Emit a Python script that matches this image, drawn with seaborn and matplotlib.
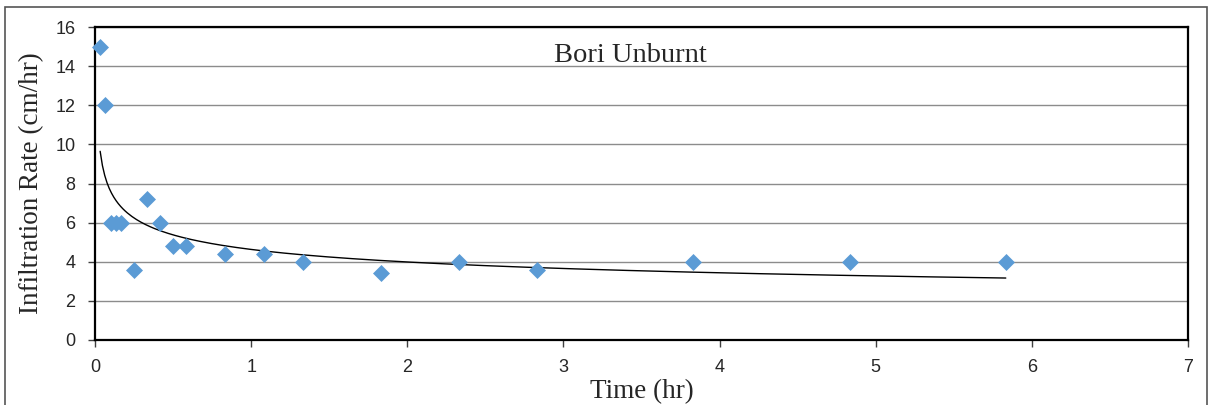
import numpy as np
import pandas as pd
import matplotlib
matplotlib.use("Agg")
import matplotlib.pyplot as plt
import seaborn as sns

time_hr = [0.033, 0.067, 0.1, 0.133, 0.167, 0.25, 0.333, 0.417, 0.5, 0.583,
           0.833, 1.083, 1.333, 1.833, 2.333, 2.833, 3.833, 4.833, 5.833]
rate = [15.0, 12.0, 6.0, 6.0, 6.0, 3.6, 7.2, 6.0, 4.8, 4.8,
        4.4, 4.4, 4.0, 3.4, 4.0, 3.6, 4.0, 4.0, 4.0]
x_ticks = [0, 1, 2, 3, 4, 5, 6, 7]
y_ticks = [0, 2, 4, 6, 8, 10, 12, 14, 16]

df = pd.DataFrame({"Time (hr)": time_hr, "Rate": rate})

sns.set_style("white")
plt.rcParams["font.family"] = ["Liberation Sans", "DejaVu Sans"]

W, H = 1208, 405
fig = plt.figure(figsize=(W / 100, H / 100), dpi=100)
ax = fig.add_axes([95 / W, 1 - 340 / H, (1188 - 95) / W, (340 - 27) / H])

# outer chart-area border
fig.patches.append(plt.Rectangle((5 / W, -0.05), (1207 - 5) / W, 1.05 - 7 / H,
                                 transform=fig.transFigure, fill=False,
                                 edgecolor="#555555", linewidth=1.2))

# power trendline fitted on the data
b, loga = np.polyfit(np.log(df["Time (hr)"]), np.log(df["Rate"]), 1)
xs = np.linspace(min(time_hr), max(time_hr), 400)
ax.plot(xs, np.exp(loga) * xs ** b, color="black", linewidth=1, zorder=3)

sns.scatterplot(data=df, x="Time (hr)", y="Rate", marker="D", s=75, color="#5B9BD5",
                edgecolor="#5B9BD5", linewidth=0, ax=ax, zorder=4, clip_on=False)

ax.set_xlim(0, 7)
ax.set_ylim(0, 16)
ax.set_xticks(x_ticks)
ax.set_yticks(y_ticks)
ax.yaxis.grid(True, color="#8C8C8C", linewidth=1)
ax.set_axisbelow(True)
for s in ["left", "bottom", "top", "right"]:
    ax.spines[s].set_color("black")
    ax.spines[s].set_linewidth(1.6)
ax.tick_params(axis="both", direction="out", length=5, width=1, color="#404040",
               labelsize=13, bottom=True, left=True)
ax.tick_params(axis="x", pad=9)
ax.tick_params(axis="y", pad=9)
ax.set_xlabel("Time (hr)", fontsize=19.5, family=["Liberation Serif"], labelpad=2)
ax.set_ylabel("Infiltration Rate (cm/hr)", fontsize=19.5, family=["Liberation Serif"], labelpad=8)
ax.text(3.43, 14.55, "Bori Unburnt", fontsize=20.5, family=["Liberation Serif"],
        ha="center", va="center")

fig.savefig("out.png", dpi=100)
